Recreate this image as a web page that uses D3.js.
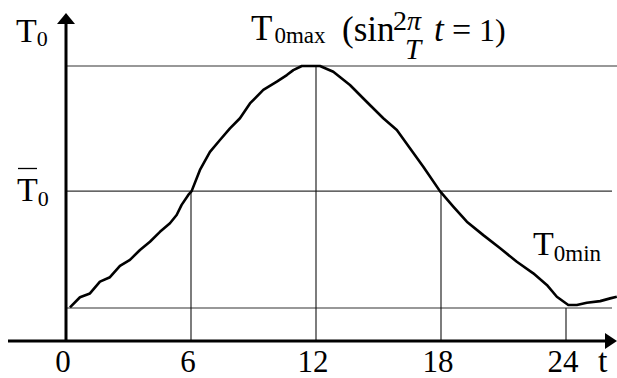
<!DOCTYPE html>
<html>
<head>
<meta charset="utf-8">
<script src="https://cdn.jsdelivr.net/npm/d3@7"></script>
<style>
  body { margin: 0; background: #fff; }
  svg { display: block; }
</style>
</head>
<body>
<svg id="chart" width="617" height="378"></svg>
<script>
// hours of the day and the temperature curve (arbitrary units, 0..100)
const hours = [0.19, 0.67, 1.15, 1.63, 2.11, 2.59, 3.07, 3.55, 4.03, 4.51, 4.99, 5.31, 5.55, 5.87, 6.03,
  6.43, 6.91, 7.39, 7.87, 8.35, 8.83, 9.47, 10.12, 10.6, 10.91, 11.32, 12.19,
  12.83, 13.63, 14.43, 15.23, 15.88, 16.51, 17.15, 17.95,
  18.6, 19.24, 20.03, 20.84, 21.64, 22.43, 23.08, 23.56, 24.11, 24.52, 25.0, 25.64, 26.12, 26.44];
const temps = [12.2, 15.9, 17.3, 21.6, 23.2, 27.3, 29.5, 33.1, 36.1, 39.7, 42.8, 45.8, 49.5, 53.1, 54.5,
  62.2, 68.8, 73.1, 77.3, 81.0, 86.4, 91.3, 94.3, 96.7, 98.5, 100, 100,
  97.9, 93.1, 87.0, 81.0, 76.7, 70.1, 63.4, 54.5,
  48.8, 43.4, 38.5, 33.7, 28.8, 24.6, 20.4, 16.1, 13.1, 13.1, 13.9, 14.5, 15.5, 16.1];

const tickHours = [0, 6, 12, 18, 24];
const tickLabels = ["0", "6", "12", "18", "24"];

// reference levels
const tMax = 100, tMean = 54.5, tMin = 12;

const FONT = '"Liberation Serif", "Times New Roman", Tinos, serif';

const svg = d3.select("#chart");

const x = d3.scaleLinear().domain([0, 24]).range([66, 566]);
const y = d3.scaleLinear().domain([0, 100]).range([341, 66]);

function label(px, py, size) {
  return svg.append("text")
    .attr("x", px).attr("y", py)
    .attr("font-size", size)
    .style("font-family", FONT)
    .attr("fill", "#000");
}

// horizontal reference lines
const levels = [
  { v: tMax, end: 617 },
  { v: tMean, end: 612 },
  { v: tMin, end: 612 },
];
svg.append("g")
  .selectAll("line")
  .data(levels)
  .enter()
  .append("line")
  .attr("x1", x(0))
  .attr("x2", d => d.end)
  .attr("y1", d => y(d.v))
  .attr("y2", d => y(d.v))
  .attr("stroke", "#333")
  .attr("stroke-width", 1.2);

// vertical drop lines at 6, 12, 18, 24
const drops = [
  { t: 6, v: tMean },
  { t: 12, v: tMax },
  { t: 18, v: tMean },
  { t: 24, v: tMin },
];
svg.append("g")
  .selectAll("line")
  .data(drops)
  .enter()
  .append("line")
  .attr("x1", d => x(d.t))
  .attr("x2", d => x(d.t))
  .attr("y1", d => y(d.v))
  .attr("y2", y(0))
  .attr("stroke", "#111")
  .attr("stroke-width", 1.1);

// the curve
const line = d3.line()
  .x((d, i) => x(hours[i]))
  .y(d => y(d));
svg.append("path")
  .attr("d", line(temps))
  .attr("fill", "none")
  .attr("stroke", "#000")
  .attr("stroke-width", 2.6)
  .attr("stroke-linejoin", "round");

// axes with arrow heads
svg.append("line")
  .attr("x1", x(0)).attr("x2", x(0))
  .attr("y1", y(0)).attr("y2", 22)
  .attr("stroke", "#000").attr("stroke-width", 3);
svg.append("path")
  .attr("d", `M${x(0)},13 L${x(0) - 9},24 L${x(0) + 9},24 Z`)
  .attr("fill", "#000");

svg.append("line")
  .attr("x1", 8).attr("x2", 607)
  .attr("y1", y(0)).attr("y2", y(0))
  .attr("stroke", "#000").attr("stroke-width", 3);
svg.append("path")
  .attr("d", `M617,${y(0)} L605,${y(0) - 8} L605,${y(0) + 8} Z`)
  .attr("fill", "#000");

// tick labels
svg.append("g")
  .selectAll("text")
  .data(tickHours)
  .enter()
  .append("text")
  .attr("x", d => x(d) - 3)
  .attr("y", 372)
  .attr("text-anchor", "middle")
  .attr("font-size", 31)
  .style("font-family", FONT)
  .text((d, i) => tickLabels[i]);

label(598, 372, 34).text("t");

// T0 axis label
const lab1 = label(16, 42, 34);
lab1.append("tspan").text("T");
lab1.append("tspan").attr("font-size", 22).attr("dy", 3.5).text("0");

// mean label with overbar
const lab2 = label(17, 201, 34);
lab2.append("tspan").text("T");
lab2.append("tspan").attr("font-size", 22).attr("dy", 5).text("0");
svg.append("line")
  .attr("x1", 18).attr("x2", 37)
  .attr("y1", 168.5).attr("y2", 168.5)
  .attr("stroke", "#000").attr("stroke-width", 1.3);

// T0max label with formula
const lab3 = label(251, 40, 35);
lab3.append("tspan").text("T");
lab3.append("tspan").attr("font-size", 23).attr("dx", 2).attr("dy", 3).text("0max");
label(342, 41, 35).text("(sin");
const num = label(393, 30, 28);
num.append("tspan").text("2");
num.append("tspan").attr("font-style", "italic").text("π");
label(405, 59, 29).attr("font-style", "italic").text("T");
label(434, 41, 35).attr("font-style", "italic").text("t");
label(452, 41, 34).text("=");
label(479, 41, 32).text("1)");

// T0min label
const lab4 = label(533, 255, 34);
lab4.append("tspan").text("T");
lab4.append("tspan").attr("font-size", 23).attr("dy", 6).text("0min");
</script>
</body>
</html>
